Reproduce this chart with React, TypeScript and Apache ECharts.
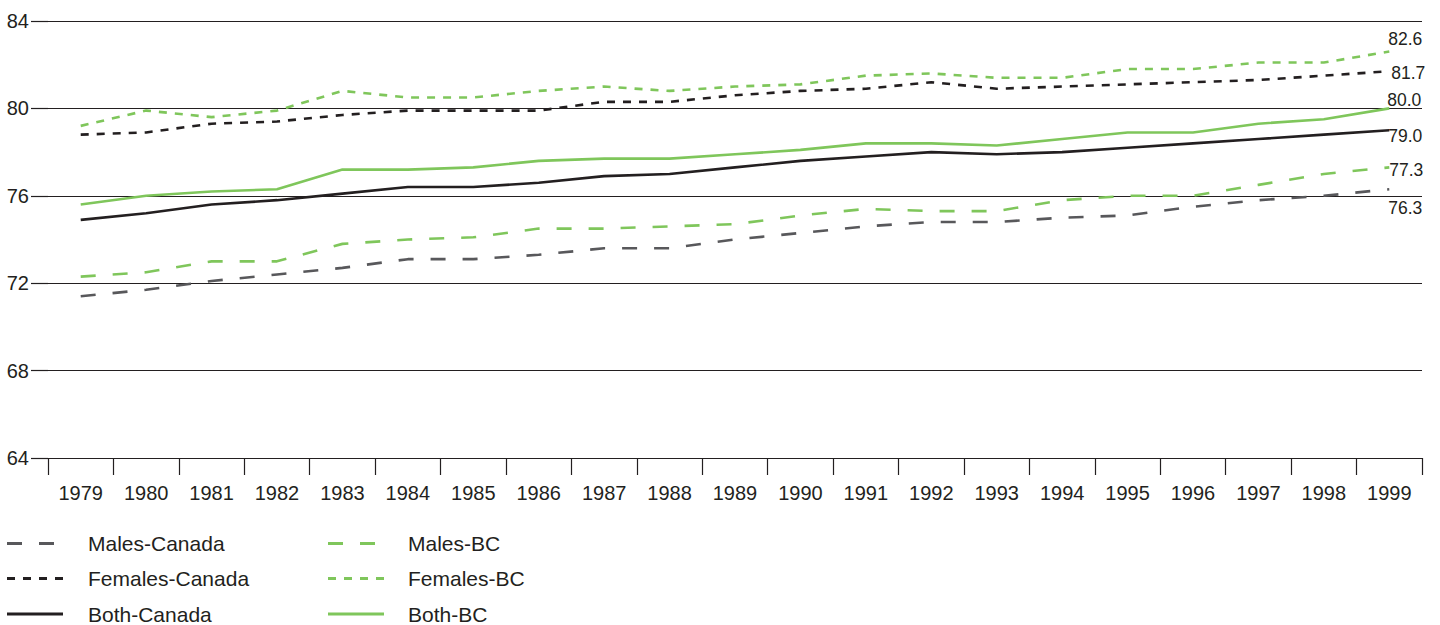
import React, { useEffect, useRef } from "react";
import * as echarts from "echarts";

const years = ["1979", "1980", "1981", "1982", "1983", "1984", "1985", "1986", "1987", "1988", "1989", "1990", "1991", "1992", "1993", "1994", "1995", "1996", "1997", "1998", "1999"];

const malesCanada = [71.4, 71.7, 72.1, 72.4, 72.7, 73.1, 73.1, 73.3, 73.6, 73.6, 74.0, 74.3, 74.6, 74.8, 74.8, 75.0, 75.1, 75.5, 75.8, 76.0, 76.3];
const femalesCanada = [78.8, 78.9, 79.3, 79.4, 79.7, 79.9, 79.9, 79.9, 80.3, 80.3, 80.6, 80.8, 80.9, 81.2, 80.9, 81.0, 81.1, 81.2, 81.3, 81.5, 81.7];
const bothCanada = [74.9, 75.2, 75.6, 75.8, 76.1, 76.4, 76.4, 76.6, 76.9, 77.0, 77.3, 77.6, 77.8, 78.0, 77.9, 78.0, 78.2, 78.4, 78.6, 78.8, 79.0];
const malesBC = [72.3, 72.5, 73.0, 73.0, 73.8, 74.0, 74.1, 74.5, 74.5, 74.6, 74.7, 75.1, 75.4, 75.3, 75.3, 75.8, 76.0, 76.0, 76.5, 77.0, 77.3];
const femalesBC = [79.2, 79.9, 79.6, 79.9, 80.8, 80.5, 80.5, 80.8, 81.0, 80.8, 81.0, 81.1, 81.5, 81.6, 81.4, 81.4, 81.8, 81.8, 82.1, 82.1, 82.6];
const bothBC = [75.6, 76.0, 76.2, 76.3, 77.2, 77.2, 77.3, 77.6, 77.7, 77.7, 77.9, 78.1, 78.4, 78.4, 78.3, 78.6, 78.9, 78.9, 79.3, 79.5, 80.0];

const yMin = 64;
const yMax = 84;
const yInterval = 4;

const canadaNames = ["Males-Canada", "Females-Canada", "Both-Canada"];
const bcNames = ["Males-BC", "Females-BC", "Both-BC"];

const INK = "#231f20";
const GRAY = "#58585b";
const GREEN = "#7fc65b";
const FONT = "'Liberation Sans', Arial, Helvetica, sans-serif";

const DASH_MALE = [15, 17];
const DASH_FEMALE = [8, 8];

function makeSeries(name: string, data: number[], color: string, dash: any, offset: [number, number]) {
  return {
    name,
    type: "line",
    data,
    symbol: "none",
    smooth: false,
    lineStyle: { color, width: 2.6, type: dash },
    itemStyle: { color },
    endLabel: {
      show: true,
      distance: 0,
      offset,
      color: INK,
      fontFamily: FONT,
      fontSize: 17.5,
      formatter: (p: any) => Number(p.value).toFixed(1),
    },
  };
}

function legendItem(name: string, color: string, dash: number[] | null, x: number, len: number, y: number) {
  return [
    {
      type: "line",
      shape: { x1: x, y1: y, x2: x + len, y2: y },
      style: { stroke: color, lineWidth: 3, lineDash: dash || undefined },
      silent: true,
    },
    {
      type: "text",
      x: x + 81,
      y,
      style: { text: name, fill: INK, font: `21px ${FONT}`, textVerticalAlign: "middle", textAlign: "left" },
      silent: true,
    },
  ];
}

export default function App() {
  const ref = useRef<HTMLDivElement>(null);
  useEffect(() => {
    if (!ref.current) return;
    const chart = echarts.init(ref.current, undefined, { renderer: "svg" });
    const rows = [543.5, 578.5, 614];
    const graphics: any[] = [
      ...legendItem(canadaNames[0], GRAY, DASH_MALE, 7, 48, rows[0]),
      ...legendItem(canadaNames[1], INK, DASH_FEMALE, 7, 56, rows[1]),
      ...legendItem(canadaNames[2], INK, null, 7, 56, rows[2]),
      ...legendItem(bcNames[0], GREEN, DASH_MALE, 328, 48, rows[0]).map((g: any) => (g.type === "text" ? { ...g, x: 408 } : g)),
      ...legendItem(bcNames[1], GREEN, DASH_FEMALE, 328, 56, rows[1]).map((g: any) => (g.type === "text" ? { ...g, x: 408 } : g)),
      ...legendItem(bcNames[2], GREEN, null, 328, 56, rows[2]).map((g: any) => (g.type === "text" ? { ...g, x: 408 } : g)),
    ];
    chart.setOption({
      animation: false,
      backgroundColor: "#ffffff",
      textStyle: { fontFamily: FONT },
      grid: { left: 48, right: 18, top: 21, bottom: 167, containLabel: false },
      graphic: graphics,
      xAxis: {
        type: "category",
        data: years,
        boundaryGap: true,
        axisLine: { show: true, lineStyle: { color: INK, width: 1.2 } },
        axisTick: { show: true, length: 17, lineStyle: { color: INK, width: 1.2 } },
        axisLabel: { color: INK, fontSize: 20, fontFamily: FONT, margin: 25, interval: 0 },
        splitLine: { show: false },
      },
      yAxis: {
        type: "value",
        min: yMin,
        max: yMax,
        interval: yInterval,
        axisLine: { show: false },
        axisTick: { show: true, length: 17, lineStyle: { color: INK, width: 1.2 } },
        axisLabel: { color: INK, fontSize: 20, fontFamily: FONT, margin: 19 },
        splitLine: { show: true, lineStyle: { color: INK, width: 1.2 } },
      },
      series: [
        makeSeries("Males-Canada", malesCanada, GRAY, DASH_MALE, [-1, 19]),
        makeSeries("Females-Canada", femalesCanada, INK, DASH_FEMALE, [2, 2]),
        makeSeries("Both-Canada", bothCanada, INK, "solid", [-1, 5.5]),
        makeSeries("Males-BC", malesBC, GREEN, DASH_MALE, [0, 2.6]),
        makeSeries("Females-BC", femalesBC, GREEN, DASH_FEMALE, [-1, -12.4]),
        makeSeries("Both-BC", bothBC, GREEN, "solid", [-2, -8]),
      ],
    });
    return () => chart.dispose();
  }, []);
  return <div ref={ref} style={{ position: "absolute", left: 0, top: 0, width: 1440, height: 625 }} />;
}
